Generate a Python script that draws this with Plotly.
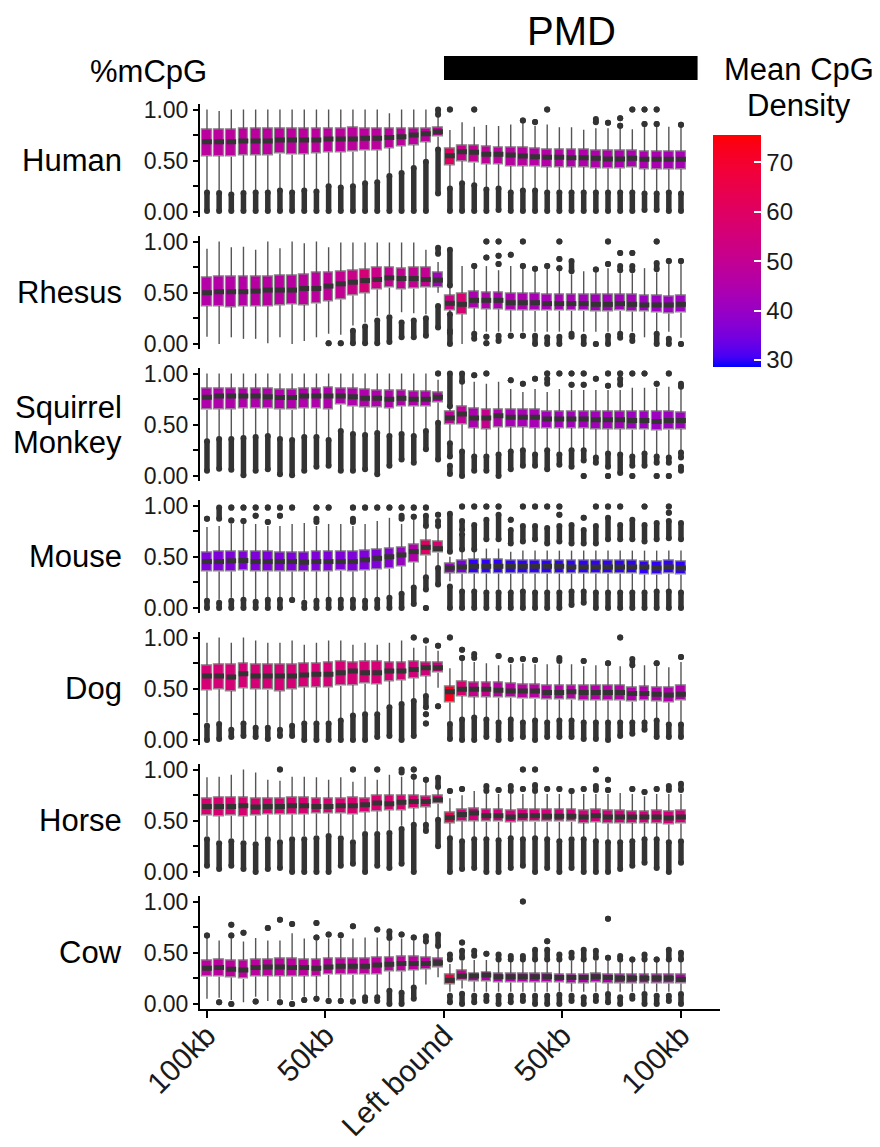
import plotly.graph_objects as go

# ---------------- data ----------------
SPECIES = ["Human", "Rhesus", "Squirrel\nMonkey", "Mouse", "Dog", "Horse", "Cow"]

# bin centres (kb from the PMD left boundary)
POSITIONS = [-100, -94.87, -89.74, -84.61, -79.47, -74.34, -69.21, -64.08, -58.95, -53.82,
             -48.68, -43.55, -38.42, -33.29, -28.16, -23.03, -17.89, -12.76, -7.63, -2.5,
             2.5, 7.63, 12.76, 17.89, 23.03, 28.16, 33.29, 38.42, 43.55, 48.68,
             53.82, 58.95, 64.08, 69.21, 74.34, 79.47, 84.61, 89.74, 94.87, 100]

X_TICK_VALUES = [-100, -50, 0, 50, 100]
X_TICK_LABELS = ["100kb", "50kb", "Left bound", "50kb", "100kb"]
Y_TICK_VALUES = [0, 0.25, 0.5, 0.75, 1.0]
Y_TICK_LABELS = ["0.00", "", "0.50", "", "1.00"]
PMD_EXTENT = [0, 107]
DENSITY_TICKS = [30, 40, 50, 60, 70]
DENSITY_RANGE = [28.6, 75.5]

Q1 = [
    [.546,.546,.540,.553,.553,.553,.569,.559,.566,.572,.582,.582,.589,.598,.602,.624,.641,.654,.683,.735,
     .459,.498,.481,.465,.465,.449,.449,.446,.439,.439,.439,.439,.429,.426,.426,.433,.420,.420,.420,.420],
    [.371,.371,.361,.368,.368,.368,.377,.387,.381,.394,.419,.435,.474,.494,.532,.548,.532,.539,.548,.555,
     .332,.290,.348,.339,.339,.329,.329,.323,.323,.323,.323,.323,.316,.316,.323,.316,.316,.306,.297,.306],
    [.645,.652,.652,.661,.661,.661,.652,.645,.661,.661,.652,.694,.677,.671,.671,.661,.677,.677,.677,.716,
     .506,.506,.468,.458,.474,.477,.477,.468,.468,.468,.468,.468,.458,.458,.458,.452,.452,.445,.452,.458],
    [.357,.357,.357,.367,.357,.357,.357,.357,.354,.357,.357,.363,.357,.363,.373,.383,.405,.444,.511,.540,
     .341,.335,.335,.335,.335,.335,.335,.335,.335,.335,.335,.335,.335,.335,.335,.335,.325,.325,.335,.325],
    [.485,.495,.479,.505,.495,.489,.479,.495,.511,.518,.511,.528,.537,.550,.544,.576,.583,.602,.625,.657,
     .366,.430,.420,.420,.411,.411,.401,.401,.392,.392,.392,.385,.385,.385,.385,.372,.385,.375,.366,.385],
    [.550,.544,.550,.544,.550,.560,.560,.560,.560,.570,.570,.570,.560,.583,.592,.602,.602,.625,.634,.667,
     .479,.495,.495,.489,.489,.485,.495,.489,.489,.489,.489,.479,.485,.472,.472,.479,.479,.479,.463,.472],
    [.265,.265,.258,.245,.268,.274,.274,.265,.274,.274,.284,.290,.284,.290,.290,.316,.316,.329,.339,.355,
     .194,.232,.219,.219,.210,.210,.210,.213,.213,.210,.203,.203,.210,.203,.203,.200,.200,.200,.200,.200],
]

MEDIAN = [
    [.686,.686,.686,.693,.693,.693,.703,.703,.703,.703,.712,.712,.712,.719,.719,.728,.735,.751,.764,.784,
     .550,.589,.582,.563,.563,.556,.546,.540,.533,.533,.530,.530,.524,.517,.517,.524,.514,.514,.514,.514],
    [.500,.510,.510,.510,.516,.526,.526,.526,.542,.542,.565,.587,.603,.619,.629,.645,.639,.639,.629,.623,
     .397,.387,.426,.426,.426,.403,.403,.403,.394,.394,.394,.394,.387,.387,.394,.387,.381,.381,.381,.387],
    [.768,.780,.780,.780,.780,.774,.765,.765,.780,.780,.780,.780,.774,.758,.758,.748,.758,.748,.748,.768,
     .565,.606,.565,.565,.587,.574,.574,.574,.555,.555,.555,.555,.548,.548,.548,.542,.542,.532,.542,.542],
    [.453,.453,.460,.463,.453,.453,.453,.453,.447,.453,.453,.453,.453,.470,.485,.500,.518,.550,.592,.579,
     .390,.400,.407,.407,.407,.407,.407,.407,.407,.407,.400,.400,.400,.400,.400,.400,.400,.390,.400,.390],
    [.625,.625,.615,.647,.625,.625,.625,.625,.634,.641,.641,.657,.673,.657,.657,.673,.673,.689,.705,.705,
     .470,.495,.495,.495,.485,.479,.479,.479,.463,.463,.470,.463,.463,.463,.463,.453,.453,.447,.440,.447],
    [.640,.640,.640,.647,.634,.640,.640,.647,.647,.640,.640,.647,.647,.657,.673,.667,.680,.689,.689,.705,
     .530,.560,.576,.550,.550,.537,.550,.550,.544,.544,.544,.537,.550,.537,.537,.537,.537,.537,.527,.537],
    [.348,.355,.339,.332,.355,.361,.361,.355,.355,.348,.361,.368,.368,.368,.381,.387,.394,.394,.394,.403,
     .232,.274,.274,.284,.265,.265,.265,.265,.265,.258,.258,.258,.265,.258,.252,.252,.252,.252,.252,.242],
]

Q3 = [
    [.807,.803,.803,.811,.811,.811,.813,.813,.813,.820,.816,.820,.823,.820,.813,.813,.813,.811,.820,.826,
     .621,.650,.647,.641,.634,.631,.628,.621,.615,.611,.611,.611,.605,.602,.602,.605,.589,.589,.589,.589],
    [.645,.655,.661,.655,.661,.661,.668,.668,.684,.694,.703,.710,.716,.726,.748,.748,.742,.748,.748,.694,
     .474,.494,.510,.500,.500,.490,.490,.490,.484,.484,.484,.484,.484,.484,.484,.484,.477,.477,.468,.477],
    [.855,.855,.855,.855,.855,.855,.848,.848,.855,.855,.861,.855,.855,.845,.839,.839,.839,.823,.823,.813,
     .635,.684,.661,.652,.652,.645,.645,.652,.635,.635,.635,.635,.629,.629,.629,.629,.629,.629,.629,.619],
    [.543,.550,.553,.553,.556,.550,.543,.543,.543,.550,.550,.550,.550,.566,.575,.585,.592,.624,.656,.646,
     .439,.465,.472,.472,.472,.465,.465,.465,.465,.465,.465,.465,.465,.465,.465,.465,.455,.455,.465,.455],
    [.731,.738,.738,.744,.738,.738,.738,.738,.744,.748,.754,.764,.754,.770,.764,.754,.754,.764,.754,.754,
     .520,.570,.560,.560,.560,.550,.544,.544,.534,.534,.537,.534,.528,.528,.528,.518,.521,.518,.511,.528],
    [.722,.728,.728,.731,.722,.722,.722,.731,.731,.722,.722,.722,.731,.722,.744,.744,.744,.744,.738,.744,
     .583,.615,.625,.608,.608,.602,.615,.608,.608,.608,.608,.602,.608,.602,.602,.592,.592,.602,.592,.602],
    [.426,.435,.426,.426,.435,.435,.445,.445,.435,.435,.445,.445,.445,.445,.452,.452,.468,.461,.452,.445,
     .284,.323,.300,.313,.297,.297,.297,.300,.300,.290,.290,.290,.297,.290,.290,.284,.284,.284,.284,.284],
]

UPPER_WHISKER = [
    [1.0,.985,1.0,1.0,1.0,1.0,1.0,1.0,1.0,1.0,1.0,1.0,1.0,1.0,1.0,.963,1.0,1.0,1.0,.930,
     .800,.875,.833,.849,.839,.855,.865,.842,.855,.826,.826,.803,.816,.816,.816,.807,.833,.833,.833,.829],
    [.930,1.0,.945,.950,.920,1.0,.935,1.0,.984,1.0,.945,.990,.990,.990,.990,.990,.990,.990,.920,.800,
     .550,.760,.740,.760,.720,.760,.740,.720,.740,.720,.680,.710,.700,.740,.690,.690,.740,.700,.780,.780],
    [1.0,1.0,1.0,1.0,1.0,1.0,1.0,1.0,1.0,1.0,1.0,1.0,1.0,1.0,1.0,1.0,1.0,1.0,1.0,.940,
     .660,.900,.920,.900,.920,.850,.820,.850,.820,.850,.840,.840,.840,.840,.840,.860,.860,.860,.870,.850],
    [.790,.800,.820,.820,.820,.800,.800,.820,.830,.800,.820,.820,.800,.820,.850,.880,.820,.860,.770,.780,
     .500,.550,.550,.580,.580,.550,.560,.560,.560,.560,.560,.560,.560,.560,.560,.560,.560,.560,.560,.560],
    [.950,1.0,.950,1.0,.970,.950,.950,.970,.930,.950,.970,.970,.930,.950,.930,.950,.970,.900,.920,.870,
     .700,.780,.760,.750,.730,.740,.750,.740,.740,.740,.740,.720,.730,.720,.720,.720,.730,.720,.710,.760],
    [.925,.930,.950,1.0,.970,.900,.890,.930,.930,.925,.900,.925,.880,.930,.900,.950,.930,.900,.880,.800,
     .720,.750,.790,.760,.760,.760,.760,.760,.760,.760,.760,.760,.760,.760,.770,.760,.740,.760,.760,.760],
    [.645,.620,.640,.610,.645,.620,.620,.690,.640,.620,.640,.640,.640,.650,.650,.620,.640,.620,.600,.550,
     .390,.420,.430,.430,.420,.420,.420,.420,.420,.420,.420,.420,.420,.420,.420,.420,.410,.410,.410,.420],
]

LOWER_WHISKER = [
    [.210,.200,.190,.200,.210,.210,.230,.210,.230,.220,.270,.260,.270,.300,.310,.370,.400,.450,.510,.630,
     .250,.300,.280,.240,.250,.210,.230,.230,.210,.210,.210,.210,.210,.210,.210,.210,.200,.200,.210,.200],
    [.070,0.0,.065,.050,.050,.006,.065,0.0,.030,.065,.100,.090,.180,.210,.270,.290,.310,.300,.290,.500,
     .310,0.0,.120,.120,.120,.120,.120,.120,.120,.120,.120,.120,.120,.120,.120,.120,.065,.120,.120,.060],
    [.360,.380,.380,.390,.400,.410,.380,.370,.400,.400,.370,.460,.430,.420,.440,.410,.430,.410,.460,.540,
     .340,.260,.210,.210,.230,.260,.270,.230,.270,.230,.270,.270,.200,.240,.230,.210,.240,.210,.200,.250],
    [.090,.080,.100,.100,.080,.100,.100,.100,.080,.090,.100,.100,.100,.090,.100,.120,.160,.220,.320,.400,
     .260,.180,.180,.170,.170,.170,.180,.170,.170,.170,.180,.180,.170,.170,.170,.170,.170,.180,.180,.170],
    [.170,.170,.120,.180,.140,.140,.120,.160,.180,.180,.180,.210,.260,.270,.270,.340,.370,.400,.450,.510,
     .170,.220,.240,.220,.190,.220,.190,.210,.190,.210,.210,.190,.190,.190,.190,.190,.190,.210,.170,.170],
    [.350,.310,.330,.310,.300,.350,.320,.350,.350,.360,.380,.360,.320,.400,.400,.410,.450,.480,.480,.530,
     .350,.320,.340,.340,.330,.350,.340,.350,.340,.320,.350,.340,.320,.310,.310,.320,.340,.340,.310,.330],
    [.050,.060,.040,.016,.070,.030,.050,.040,.070,.060,.060,.060,.060,.080,.080,.150,.130,.160,.190,.260,
     .120,.150,.120,.120,.120,.120,.120,.120,.120,.120,.120,.120,.120,.120,.120,.120,.120,.120,.120,.120],
]

# outliers: per box, list of [low, high] runs of outlier points (single points have low == high)
OUTLIERS = [
    [  # Human
        [[.01,.19]], [[.01,.185]], [[.01,.17]], [[.01,.185]], [[.01,.19]], [[.01,.19]], [[.01,.21]], [[.01,.19]],
        [[.01,.21]], [[.01,.20]], [[.01,.25]], [[.01,.24]], [[.01,.25]], [[.01,.28]], [[.01,.29]], [[.01,.35]],
        [[.01,.38]], [[.01,.43]], [[.01,.49]], [[.95,1.0],[.18,.61]],
        [[1,1],[.01,.23]], [[.01,.28]], [[1,1],[.01,.26]], [[.01,.22]], [[.02,.23]], [[.01,.19]],
        [[.894,.894],[.01,.21]], [[.878,.878],[.01,.21]], [[1,1],[.01,.19]], [[.01,.19]], [[.01,.19]],
        [[.01,.19]], [[.875,.907],[.01,.19]], [[.872,.872],[.01,.19]], [[.914,.914],[.842,.842],[.01,.19]],
        [[1,1],[.01,.19]], [[1,1],[.859,.859],[.02,.18]], [[1,1],[.859,.859],[.02,.18]], [[.01,.19]],
        [[.852,.852],[.01,.18]],
    ],
    [  # Rhesus
        [], [], [], [], [], [], [], [], [], [],
        [[.006,.006]], [[.006,.006]], [[.006,.13]], [[.006,.17]], [[.006,.23]], [[.02,.26]], [[.065,.21]],
        [[.065,.23]], [[.08,.25]], [[.88,.94],[.16,.37]],
        [[.57,.92],[.13,.29],[0.0,.11]], [], [[.76,.76],[.05,.10]], [[1,1],[.845,.845],[.07,.07],[.006,.006]],
        [[1,1],[.86,.86],[.78,.78],[.03,.08]], [[.87,.87],[.08,.08]], [[1,1],[.76,.76],[.08,.08]],
        [[.735,.735],[0,.08]], [[.76,.76],[0,.065]], [[1,1],[.83,.83],[.74,.74],[0,.07]],
        [[.71,.81],[.07,.10]], [[0,.07]], [[.726,.726],[0,0]], [[1,1],[.78,.78],[0,.08]],
        [[.887,.887],[.72,.76],[.06,.10]], [[.887,.887],[.72,.76],[.03,.08]], [],
        [[1,1],[.73,.79],[0,.10]], [[.81,.81],[0,.05]], [[.81,.81],[0,0]],
    ],
    [  # Squirrel monkey
        [[.05,.34]], [[.07,.36]], [[.06,.36]], [[.006,.37]], [[.05,.38]], [[.065,.39]], [[.016,.36]],
        [[.006,.35]], [[.05,.38]], [[.09,.38]], [[.10,.35]], [[.05,.44]], [[.05,.41]], [[.065,.40]],
        [[.016,.42]], [[.10,.39]], [[.16,.41]], [[.13,.39]], [[.26,.44]], [[1,1],[.16,.52]],
        [[.68,1.0],[.19,.32],[.02,.10]], [[.92,1.0],[0,.24]], [[.984,.984],[.05,.19]], [[1,1],[.05,.19]],
        [[0,.21]], [[.935,.935],[.065,.24]], [[.90,.90],[.10,.25]], [[.95,.95],[.10,.21]],
        [[1,1],[.90,.95],[.065,.25]], [[1,1],[.11,.21]], [[1,1],[.89,.89],[.09,.25]],
        [[1,1],[.89,.89],[.15,.25],[0,0]], [[.95,.95],[.13,.18]], [[1,1],[.88,.88],[.09,.22],[0,0]],
        [[1,1],[.89,.95],[.03,.21]], [[1,1],[.10,.19],[0,0]], [[1,1],[.10,.22]], [[.90,.90],[.13,.19],[0,0]],
        [[1,1],[.13,.18],[0,0]], [[.87,.90],[.18,.23],[.05,.09]],
    ],
    [  # Mouse
        [[.87,.87],[0,.07]], [[.87,.98],[0,.05]], [[.98,.98],[.855,.855],[0,.07]], [[.98,.98],[.85,.85],[0,.08]],
        [[.98,.98],[.90,.90],[0,.06]], [[.98,.98],[.84,.84],[0,.08]], [[.98,.98],[.90,.90],[0,.08]],
        [[.98,.98],[.077,.077]], [[0,.05]], [[.98,.98],[.84,.87],[0,.07]], [[.98,.98],[0,.08]], [[0,.08]],
        [[.98,.98],[.84,.87],[0,.08]], [[.98,.98],[0,.07]], [[.98,.98],[0,.08]], [[.98,.98],[0,.10]],
        [[.98,.98],[.87,.90],[0,.14]], [[.98,.98],[.89,.89],[.04,.20]], [[.98,.98],[.80,.90],[.18,.30],[0,0]],
        [[.91,.91],[.80,.85],[.23,.39]],
        [[.55,.92],[0,.21]], [[.99,.99],[.76,.85],[.57,.72],[0,.16]], [[.99,.99],[.57,.81],[0,.16]],
        [[.99,.99],[.67,.86],[0,.15]], [[.99,.99],[.67,.91],[0,.15]], [[.86,.86],[.63,.76],[0,.15]],
        [[.99,.99],[.65,.80],[0,.16]], [[.99,.99],[.67,.80],[0,.15]], [[.99,.99],[.63,.78],[0,.15]],
        [[.99,.99],[.91,.91],[.65,.80],[0,.15]], [[.63,.81],[.03,.16]], [[.88,.88],[.63,.76],[.05,.16]],
        [[.99,.99],[.63,.80],[0,.15]], [[.99,.99],[.67,.88],[0,.15]], [[.99,.99],[.67,.81],[0,.15]],
        [[.67,.86],[0,.15]], [[.99,.99],[.65,.81],[0,.15]], [[.67,.83],[0,.16]],
        [[.99,.99],[.93,.93],[.68,.85],[0,.16]], [[.67,.83],[0,.15]],
    ],
    [  # Dog
        [[0,.14]], [[.01,.155]], [[.03,.10]], [[.04,.16]], [[.03,.12]], [[.01,.12]], [[.04,.10]], [[.04,.14]],
        [[0,.16]], [[0,.16]], [[0,.16]], [[0,.19]], [[0,.24]], [[0,.25]], [[.03,.25]], [[.04,.32]], [[0,.35]],
        [[1,1],[.04,.38]], [[.97,.97],[.32,.43],[.25,.25],[.16,.16]], [[.92,.92],[.33,.33]],
        [[1,1],[.01,.155]], [[.88,.88],[.80,.80],[0,.20]], [[.80,.84],[0,.22]], [[.03,.20]],
        [[.82,.82],[0,.17]], [[.78,.78],[.01,.20]], [[.79,.79],[.03,.17]], [[.78,.78],[0,.19]], [[.03,.17]],
        [[.77,.80],[.03,.19]], [[.03,.19]], [[.77,.77],[.01,.17]], [[.01,.17]], [[.75,.75],[0,.17]],
        [[1,1],[.04,.17]], [[.73,.79],[.06,.17]], [[.10,.17]], [[.75,.75],[.03,.19]], [[.03,.15]],
        [[.81,.81],[.03,.15]],
    ],
    [  # Horse
        [[.06,.32]], [[.03,.28]], [[.06,.30]], [[.03,.28]], [[0,.27]], [[.03,.32]], [[1,1],[.04,.29]],
        [[0,.32]], [[0,.32]], [[0,.33]], [[0,.35]], [[.06,.33]], [[1,1],[.08,.29]], [[0,.37]],
        [[1,1],[.06,.37]], [[.04,.38]], [[.97,1.0],[.08,.42]], [[1,1],[.93,.93],[0,.46]],
        [[.90,.90],[.40,.46]], [[.83,.92],[.25,.51]],
        [[.79,.79],[0,.33]], [[.81,.81],[.03,.30]], [[.04,.32]], [[.79,.84],[0,.32]], [[.80,.80],[0,.31]],
        [[.79,.84],[.04,.33]], [[1,1],[.81,.81],[.06,.32]], [[1,1],[.79,.85],[0,.33]], [[.81,.81],[.04,.32]],
        [[.81,.81],[0,.30]], [[.79,.79],[.04,.32]], [[.81,.81],[0,.32]], [[1,1],[.80,.84],[0,.30]],
        [[.90,.90],[.80,.80],[0,.29]], [[.03,.29]], [[.81,.81],[.06,.30]], [[.78,.78],[.09,.32]],
        [[.81,.81],[.04,.32]], [[.80,.84],[0,.29]], [[.80,.86],[.09,.30]],
    ],
    [  # Cow
        [[.668,.668]], [[.016,.016]], [[.774,.774],[.668,.668],[0,0]], [[.694,.694]], [[.023,.023]],
        [[.742,.742]], [[.823,.823],[.016,.016]], [[.78,.78],[0,0]], [[.04,.04]],
        [[.79,.79],[.65,.65],[.05,.05]], [[.677,.677],[.03,.03]], [[.67,.67],[.03,.03]],
        [[.758,.758],[.025,.025]], [[.03,.065]], [[.726,.726],[.03,.065]], [[.645,.71],[0,.13]],
        [[.677,.677],[0,.11]], [[.65,.65],[.05,.16]], [[.61,.66]], [[.565,.677]],
        [[.435,.484],[.016,.08]], [[.60,.60],[.45,.52],[0,.10]], [[.47,.52],[.016,.08]], [[.49,.49],[.03,.08]],
        [[.435,.484],[0,.08]], [[.435,.468],[.016,.08]], [[1,1],[.435,.468],[.03,.08]], [[.435,.53],[0,.08]],
        [[.613,.613],[.435,.53],[0,.08]], [[.435,.484],[0,.09]], [[.45,.50],[.03,.08]], [[.435,.53],[0,.065]],
        [[.45,.52],[.03,.08]], [[.832,.832],[.45,.45],[.016,.097]], [[.435,.468],[0,.065]],
        [[.435,.435],[.05,.08]], [[.435,.484],[0,.097]], [[.435,.435],[0,.08]], [[.435,.53],[.03,.08]],
        [[.435,.50],[0,.097]],
    ],
]

# mean CpG density of each bin (fill colour)
DENSITY = [
    [48,48,48,48,48,48,48,48,48,48,48,48,48,48,48,48,48,48,48,49,
     60,51,50,49,48,47,47,46,46,46,45,45,45,45,44,44,44,44,43,43],
    [46,46,46,46,47,47,47,47,48,48,49,50,52,56,52,50,50,50,50,42,
     53,57,44,45,44,44,44,43,43,43,43,42,42,42,42,42,41,41,41,41],
    [45,45,45,45,45,45,45,45,45,45,45,45,45,45,45,45,45,45,45,46,
     49,49,44,51,45,43,43,43,42,42,42,42,42,42,42,41,41,41,41,41],
    [36,36,36,36,36,36,36,36,36,36,36,36,36,36,36,37,40,45,60,57,
     40,35,30,30,30,30,30,30,30,30,30,30,30,30,30,30,30,30,30,30],
    [56,56,56,56,56,56,56,56,56,56,56,56,56,56,56,56,56,55,55,54,
     72,57,51,51,47,47,47,47,46,46,46,46,46,46,46,45,45,45,45,45],
    [57,57,57,57,57,57,57,57,57,57,57,57,57,57,57,57,57,57,57,57,
     64,55,55,55,55,55,55,55,55,55,55,55,55,55,55,55,55,55,55,55],
    [48,48,48,48,48,48,48,48,48,48,48,48,48,48,48,48,48,48,48,48,
     66,51,46,46,45,45,45,45,45,45,45,45,45,45,45,45,45,45,45,45],
]

# ---------------- colour scale: blue -> red interpolated in CIELAB ----------------
_XN, _YN, _ZN = 0.95047, 1.0, 1.08883


def _lin(c):
    return c / 12.92 if c <= 0.04045 else ((c + 0.055) / 1.055) ** 2.4


def _gam(c):
    c = min(1.0, max(0.0, c))
    return 12.92 * c if c <= 0.0031308 else 1.055 * c ** (1 / 2.4) - 0.055


def _rgb2lab(rgb):
    r, g, b = [_lin(v / 255) for v in rgb]
    X = 0.4124564 * r + 0.3575761 * g + 0.1804375 * b
    Y = 0.2126729 * r + 0.7151522 * g + 0.0721750 * b
    Z = 0.0193339 * r + 0.1191920 * g + 0.9503041 * b
    f = lambda t: t ** (1 / 3) if t > (6 / 29) ** 3 else t / (3 * (6 / 29) ** 2) + 4 / 29
    fx, fy, fz = f(X / _XN), f(Y / _YN), f(Z / _ZN)
    return 116 * fy - 16, 500 * (fx - fy), 200 * (fy - fz)


def _lab2hex(lab):
    L, a, bb = lab
    fy = (L + 16) / 116
    fx = fy + a / 500
    fz = fy - bb / 200
    finv = lambda t: t ** 3 if t > 6 / 29 else 3 * (6 / 29) ** 2 * (t - 4 / 29)
    X, Y, Z = _XN * finv(fx), _YN * finv(fy), _ZN * finv(fz)
    r = 3.2404542 * X - 1.5371385 * Y - 0.4985314 * Z
    g = -0.9692660 * X + 1.8760108 * Y + 0.0415560 * Z
    b = 0.0556434 * X - 0.2040259 * Y + 1.0572252 * Z
    return "#%02x%02x%02x" % tuple(int(round(255 * _gam(v))) for v in (r, g, b))


_lo, _hi = _rgb2lab((0, 0, 255)), _rgb2lab((255, 0, 0))
N_STOPS = 24
COLORSCALE = []
for i in range(N_STOPS + 1):
    t = i / N_STOPS
    COLORSCALE.append([t, _lab2hex(tuple(_lo[j] + (_hi[j] - _lo[j]) * t for j in range(3)))])

# ---------------- layout geometry ----------------
OFF = 8                       # page body margin of the html page
W, H = 880 - OFF, 1147 - OFF
FONT = "Liberation Sans, Arial, Helvetica, sans-serif"


def px_x(px):
    return (px - OFF) / W


def px_y(py):
    return 1 - (py - OFF) / H


X_DOMAIN = [px_x(200), px_x(720)]
X_RANGE = [-102.95, 116.46]
Y_RANGE = [-0.05, 1.05]
PANEL_TOP0, PANEL_H, PANEL_STEP = 104.4, 112.7, 132.0
BOX_W = 4.1
DARK = "#333333"

fig = go.Figure()
n_panels = len(SPECIES)
annotations = []

for k in range(n_panels):
    sfx = "" if k == 0 else str(k + 1)
    xa, ya = "x" + sfx, "y" + sfx
    q1, md, q3 = Q1[k], MEDIAN[k], Q3[k]
    uw, lw = UPPER_WHISKER[k], LOWER_WHISKER[k]

    wx, wy = [], []
    for p, a, b, c, d in zip(POSITIONS, q1, q3, lw, uw):
        wx += [p, p, None, p, p, None]
        wy += [b, d, None, a, c, None]
    fig.add_trace(go.Scatter(x=wx, y=wy, mode="lines", xaxis=xa, yaxis=ya,
                             line=dict(color="#555555", width=1.4), hoverinfo="skip", showlegend=False))

    marker = dict(color=DENSITY[k], colorscale=COLORSCALE, cmin=DENSITY_RANGE[0], cmax=DENSITY_RANGE[1],
                  line=dict(color="#8a8a8a", width=1.2), showscale=(k == 0))
    if k == 0:
        marker["colorbar"] = dict(
            x=px_x(713), xanchor="left", y=px_y(135), yanchor="top",
            len=232, lenmode="pixels", thickness=48, thicknessmode="pixels",
            xpad=0, ypad=0, outlinewidth=0,
            tickvals=DENSITY_TICKS, ticktext=[str(v) for v in DENSITY_TICKS],
            ticks="inside", ticklen=7, tickwidth=1.5, tickcolor="white",
            tickfont=dict(family=FONT, size=24, color="#1a1a1a"),
        )
    fig.add_trace(go.Bar(x=POSITIONS, y=[b - a for a, b in zip(q1, q3)], base=q1, width=BOX_W,
                         marker=marker, xaxis=xa, yaxis=ya, hoverinfo="skip", showlegend=False))

    mx, my = [], []
    for p, m in zip(POSITIONS, md):
        mx += [p - BOX_W / 2, p + BOX_W / 2, None]
        my += [m, m, None]
    fig.add_trace(go.Scatter(x=mx, y=my, mode="lines", xaxis=xa, yaxis=ya,
                             line=dict(color=DARK, width=5), hoverinfo="skip", showlegend=False))

    ox, oy = [], []
    for p, runs in zip(POSITIONS, OUTLIERS[k]):
        for lo, hi in runs:
            ox += [p, p, None]
            oy += [lo, hi, None]
    fig.add_trace(go.Scatter(x=ox, y=oy, mode="lines+markers", xaxis=xa, yaxis=ya,
                             line=dict(color=DARK, width=5.5), marker=dict(color=DARK, size=6),
                             hoverinfo="skip", showlegend=False))

    top_px = PANEL_TOP0 + PANEL_STEP * k
    bot_px = top_px + PANEL_H
    mid_px = top_px + PANEL_H / 2
    bottom = (k == n_panels - 1)
    fig.layout["xaxis" + sfx] = dict(
        domain=X_DOMAIN, range=X_RANGE, anchor=ya, showgrid=False, zeroline=False, automargin=False,
        showline=bottom, linecolor="black", linewidth=2,
        ticks="outside" if bottom else "", ticklen=7, tickwidth=1.5, tickcolor="black",
        showticklabels=bottom, tickvals=X_TICK_VALUES, ticktext=X_TICK_LABELS, tickangle=-45,
        ticklabelstandoff=-12,
        tickfont=dict(family=FONT, size=30, color="#1a1a1a"),
    )
    fig.layout["yaxis" + sfx] = dict(
        domain=[px_y(bot_px), px_y(top_px)], range=Y_RANGE, anchor=xa, automargin=False,
        showgrid=False, zeroline=False, showline=True, linecolor="black", linewidth=2,
        ticks="outside", ticklen=5, tickwidth=1.5, tickcolor="black",
        tickvals=Y_TICK_VALUES, ticktext=Y_TICK_LABELS,
        tickfont=dict(family=FONT, size=23, color="#1a1a1a"),
    )
    lines = SPECIES[k].split("\n")
    for j, line in enumerate(lines):
        yy = mid_px + (j - (len(lines) - 1) / 2) * 35
        annotations.append(dict(
            text=line, xref="paper", yref="paper", x=px_x(124), y=px_y(yy),
            xanchor="right", yanchor="middle", align="right", showarrow=False,
            font=dict(family=FONT, size=31, color="black"),
        ))


def label(text, x, y, size, anchor="center"):
    return dict(text=text, xref="paper", yref="paper", x=px_x(x), y=px_y(y), xanchor=anchor,
                yanchor="middle", showarrow=False, font=dict(family=FONT, size=size, color="black"))


annotations += [
    label("%mCpG", 148, 72, 31),
    label("PMD", 571, 31, 40),
    label("Mean CpG", 799, 70, 31),
    label("Density", 799, 106, 31),
]

fig.update_layout(
    template="none",
    width=W, height=H, margin=dict(l=0, r=0, t=0, b=0, autoexpand=False),
    paper_bgcolor="white", plot_bgcolor="white", showlegend=False,
    annotations=annotations, bargap=0,
    shapes=[dict(type="rect", xref="x", yref="paper", x0=PMD_EXTENT[0], x1=PMD_EXTENT[1],
                 y0=px_y(80), y1=px_y(56), fillcolor="black", line=dict(width=0))],
)

fig.write_html("out.html")
